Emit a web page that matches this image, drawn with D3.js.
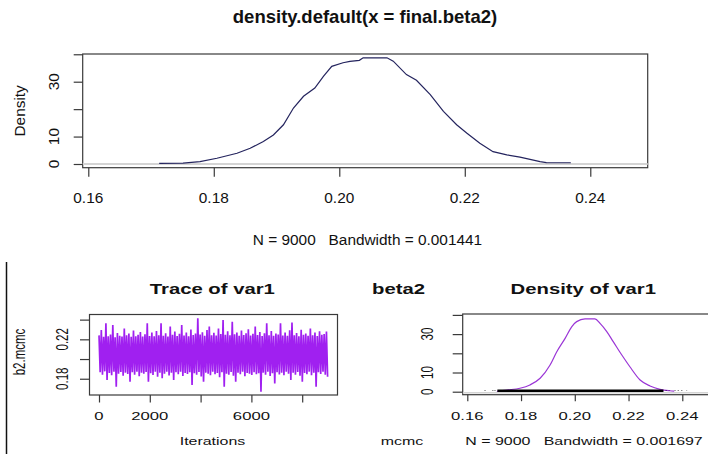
<!DOCTYPE html>
<html><head><meta charset="utf-8">
<script src="https://cdn.jsdelivr.net/npm/d3@7"></script>
<style>
body{margin:0;background:#fff}
svg{display:block}
text{font-family:"Liberation Sans",Arial,sans-serif;fill:#111;white-space:pre}
</style>
</head><body>
<svg id="c" width="708" height="454"></svg>
<script>
// ---------- DATA ----------
// Top: density.default(x = final.beta2)
const topDensX = [0.1713,0.1751,0.1778,0.1805,0.1837,0.1858,0.1879,0.1895,0.1911,0.1927,0.1943,0.1961,0.1975,0.1988,0.2006,0.2017,0.2032,0.2038,0.2076,0.2086,0.2107,0.2123,0.2145,0.2166,0.2187,0.2203,0.2224,0.2245,0.2267,0.2288,0.2320,0.2330,0.2369];
const topDensY = [0.25,0.30,0.84,2.09,3.92,5.75,8.17,10.6,14.3,20.4,24.7,27.7,32.0,35.6,36.9,37.4,37.8,38.7,38.7,37.5,32.6,30.5,25.3,19.2,14.3,11.3,7.6,4.5,3.3,2.5,0.84,0.50,0.45];
const topXTicks = [0.16,0.18,0.20,0.22,0.24];
const topYTicks = [0,10,20,30,40];
const topYLabels = [0,10,30];
const topTitle = "density.default(x = final.beta2)";
const topSub = "N = 9000   Bandwidth = 0.001441";

const traceHigh = [0.2240,0.2294,0.2225,0.2362,0.2230,0.2248,0.2345,0.2222,0.2265,0.2235,
0.2228,0.2310,0.2240,0.2258,0.2226,0.2290,0.2232,0.2246,0.2275,0.2228,
0.2252,0.2362,0.2234,0.2268,0.2230,0.2285,0.2241,0.2362,0.2236,0.2262,
0.2229,0.2330,0.2245,0.2280,0.2233,0.2256,0.2345,0.2238,0.2270,0.2232,
0.2300,0.2244,0.2258,0.2413,0.2250,0.2272,0.2236,0.2295,0.2330,0.2242,
0.2266,0.2238,0.2310,0.2255,0.2396,0.2247,0.2282,0.2240,0.2379,0.2251,
0.2268,0.2236,0.2290,0.2243,0.2262,0.2302,0.2238,0.2256,0.2330,0.2244,
0.2275,0.2233,0.2262,0.2362,0.2240,0.2284,0.2237,0.2258,0.2248,0.2362,
0.2239,0.2270,0.2235,0.2292,0.2370,0.2242,0.2264,0.2231,0.2298,0.2246,
0.2258,0.2235,0.2310,0.2240,0.2268,0.2233,0.2282,0.2245,0.2255,0.2278];
const traceLow = [0.1865,0.1842,0.1875,0.1787,0.1858,0.1836,0.1870,0.1719,0.1852,0.1868,
0.1830,0.1862,0.1848,0.1770,0.1866,0.1840,0.1872,0.1825,0.1860,0.1850,
0.1868,0.1770,0.1855,0.1838,0.1870,0.1820,0.1862,0.1804,0.1850,0.1872,
0.1833,0.1860,0.1787,0.1865,0.1845,0.1870,0.1828,0.1858,0.1848,0.1866,
0.1736,0.1855,0.1840,0.1868,0.1822,0.1770,0.1862,0.1850,0.1835,0.1870,
0.1845,0.1858,0.1815,0.1866,0.1719,0.1852,0.1840,0.1868,0.1830,0.1770,
0.1860,0.1846,0.1872,0.1826,0.1858,0.1850,0.1838,0.1866,0.1845,0.1855,
0.1668,0.1862,0.1840,0.1870,0.1828,0.1856,0.1753,0.1866,0.1844,0.1860,
0.1835,0.1870,0.1850,0.1787,0.1862,0.1842,0.1868,0.1830,0.1770,0.1858,
0.1846,0.1872,0.1836,0.1860,0.1719,0.1865,0.1848,0.1870,0.1840,0.1820];
const nIter = 9000;
const traceXTicks = [0,2000,4000,6000,8000];
const traceXLabels = [0,2000,6000];
const traceYTicks = [0.18,0.20,0.22,0.24];
const traceYLabels = [0.18,0.22];

// Bottom-right: density of var1
const botDensX = [0.1710,0.1747,0.1796,0.1833,0.1871,0.1908,0.1933,0.1964,0.1989,0.2007,0.2038,0.2075,0.2094,0.2119,0.2143,0.2175,0.2205,0.2243,0.2280,0.2317,0.2354,0.2370];
const botDensY = [0.2,0.9,1.8,3.5,7.0,13.9,20.8,27.8,33.9,36.5,37.9,37.9,35.6,31.3,26.1,19.1,13.0,6.1,3.0,1.25,0.5,0.3];
const rugDense = [0.1712,0.2330];
const rugSparse = [0.1666,0.1695,0.1703,0.2340,0.2352,0.2373,0.2385,0.2398,0.2416];
const botXTicks = [0.16,0.18,0.20,0.22,0.24];
const botYTicks = [0,10,20,30,40];
const botYLabels = [0,10,30];

// ---------- DRAW ----------
const svg = d3.select("#c");
const BOX = "#3a3a3a";
const f2 = d3.format(".2f");

function txt(x, y, s, size, opt = {}) {
  return svg.append("text")
    .attr("transform", `translate(${x},${y})` + (opt.sx ? ` scale(${opt.sx},1)` : "") + (opt.rot ? " rotate(-90)" : ""))
    .attr("text-anchor", opt.anchor || "middle")
    .attr("font-size", size)
    .attr("font-weight", opt.bold ? "bold" : "normal")
    .text(s);
}

// ===== TOP PANEL =====
const tx = d3.scaleLinear().domain([0.15911, 0.24915]).range([82.7, 647.7]);
const ty = d3.scaleLinear().domain([-1.35, 40.1]).range([167.7, 54]);

svg.append("rect").attr("x", tx.range()[0]).attr("y", ty.range()[1])
  .attr("width", tx.range()[1] - tx.range()[0]).attr("height", ty.range()[0] - ty.range()[1])
  .attr("fill", "none").attr("stroke", BOX).attr("stroke-width", 1.2);

svg.append("line").attr("x1", tx.range()[0]).attr("x2", tx.range()[1])
  .attr("y1", ty(0)).attr("y2", ty(0)).attr("stroke", "#d4d4d4").attr("stroke-width", 2.2);

svg.append("path").datum(d3.zip(topDensX, topDensY))
  .attr("fill", "none").attr("stroke", "#24245e").attr("stroke-width", 1.2)
  .attr("d", d3.line().x(d => tx(d[0])).y(d => ty(d[1])));

const topXAxis = svg.append("g").attr("transform", `translate(0,${ty.range()[0]})`)
  .call(d3.axisBottom(tx).tickValues(topXTicks).tickSize(9).tickSizeOuter(0).tickFormat(""));
const topYAxis = svg.append("g").attr("transform", `translate(${tx.range()[0]},0)`)
  .call(d3.axisLeft(ty).tickValues(topYTicks).tickSize(9).tickSizeOuter(0).tickFormat(""));
[topXAxis, topYAxis].forEach(a => {
  a.select(".domain").remove();
  a.selectAll(".tick line").attr("stroke", BOX).attr("stroke-width", 1.2);
});

topXTicks.forEach(v => txt(tx(v), 203, f2(v), 15.4));
topYLabels.forEach(v => txt(59, ty(v), String(v), 15.4, {rot: true}));
txt(24.7, (ty.range()[0] + ty.range()[1]) / 2, "Density", 15.4, {rot: true});
txt(365, 23, topTitle, 18.5, {bold: true});
txt(367.5, 245, topSub, 15.4);

// divider line on the left of bottom half
svg.append("line").attr("x1", 6.5).attr("x2", 6.5).attr("y1", 262).attr("y2", 454)
  .attr("stroke", "#111").attr("stroke-width", 1.5);

// ===== BOTTOM-LEFT: TRACE =====
const SX = 1.45;
const bx = d3.scaleLinear().domain([-374, 9390]).range([89.5, 337.5]);
const by = d3.scaleLinear().domain([0.1635, 0.2452]).range([395, 314.5]);

const traceSeq = [];
traceHigh.forEach((h, i) => { traceSeq.push(h); traceSeq.push(traceLow[i]); });
const traceIter = d3.range(traceSeq.length).map(i => 1 + i * (nIter - 1) / (traceSeq.length - 1));

svg.append("path").datum(d3.zip(traceIter, traceSeq))
  .attr("fill", "none").attr("stroke", "#a020f0").attr("stroke-width", 1.7)
  .attr("stroke-linejoin", "bevel")
  .attr("d", d3.line().x(d => bx(d[0])).y(d => by(d[1])));

svg.append("rect").attr("x", bx.range()[0]).attr("y", by.range()[1])
  .attr("width", bx.range()[1] - bx.range()[0]).attr("height", by.range()[0] - by.range()[1])
  .attr("fill", "none").attr("stroke", BOX).attr("stroke-width", 1.2);

const trX = svg.append("g").attr("transform", `translate(0,${by.range()[0]})`)
  .call(d3.axisBottom(bx).tickValues(traceXTicks).tickSize(7.5).tickSizeOuter(0).tickFormat(""));
const trY = svg.append("g").attr("transform", `translate(${bx.range()[0]},0)`)
  .call(d3.axisLeft(by).tickValues(traceYTicks).tickSize(9.5).tickSizeOuter(0).tickFormat(""));
[trX, trY].forEach(a => {
  a.select(".domain").remove();
  a.selectAll(".tick line").attr("stroke", BOX).attr("stroke-width", 1.2);
});
traceXLabels.forEach(v => txt(bx(v), 419.5, String(v), 11.5, {sx: SX}));
traceYLabels.forEach(v => txt(67.5, by(v), f2(v), 11.5, {sx: SX, rot: true}));
txt(25, 352, "b2.mcmc", 11.5, {sx: SX, rot: true});
txt(212.5, 445, "Iterations", 11, {sx: SX});
txt(212.3, 294, "Trace of var1", 14, {sx: SX, bold: true});
txt(398.5, 294, "beta2", 14, {sx: SX, bold: true});

// ===== BOTTOM-RIGHT: DENSITY =====
const dx = d3.scaleLinear().domain([0.15829, 0.2518]).range([462.7, 714]);
const dy = d3.scaleLinear().domain([-1.56, 40.47]).range([394.7, 314]);

svg.append("rect").attr("x", dx.range()[0]).attr("y", dy.range()[1])
  .attr("width", dx.range()[1] - dx.range()[0]).attr("height", dy.range()[0] - dy.range()[1])
  .attr("fill", "none").attr("stroke", BOX).attr("stroke-width", 1.2);

svg.append("line").attr("x1", dx.range()[0]).attr("x2", dx.range()[1])
  .attr("y1", dy(0) + 1).attr("y2", dy(0) + 1).attr("stroke", "#d4d4d4").attr("stroke-width", 1.6);

svg.append("path").datum(d3.zip(botDensX, botDensY))
  .attr("fill", "none").attr("stroke", "#9a35d6").attr("stroke-width", 1.2)
  .attr("d", d3.line().curve(d3.curveMonotoneX).x(d => dx(d[0])).y(d => dy(d[1])));

// observations (type "h" lines up to max/100)
const obsH = d3.max(botDensY) / 100;
svg.append("line").attr("x1", dx(rugDense[0])).attr("x2", dx(rugDense[1]))
  .attr("y1", dy(obsH / 2) - 0.6).attr("y2", dy(obsH / 2) - 0.6)
  .attr("stroke", "#000").attr("stroke-width", 2.4);
svg.selectAll(".rug").data(rugSparse).join("line")
  .attr("x1", d => dx(d)).attr("x2", d => dx(d))
  .attr("y1", dy(0) - 1.6).attr("y2", dy(obsH) - 0.6)
  .attr("stroke", "#000").attr("stroke-width", 1.3);

const dX = svg.append("g").attr("transform", `translate(0,${dy.range()[0]})`)
  .call(d3.axisBottom(dx).tickValues(botXTicks).tickSize(6.5).tickSizeOuter(0).tickFormat(""));
const dY = svg.append("g").attr("transform", `translate(${dx.range()[0]},0)`)
  .call(d3.axisLeft(dy).tickValues(botYTicks).tickSize(10).tickSizeOuter(0).tickFormat(""));
[dX, dY].forEach(a => {
  a.select(".domain").remove();
  a.selectAll(".tick line").attr("stroke", BOX).attr("stroke-width", 1.2);
});
botXTicks.forEach(v => txt(dx(v), 419.5, f2(v), 11.5, {sx: SX}));
botYLabels.forEach(v => txt(433, dy(v), String(v), 11.5, {sx: SX, rot: true}));
txt(583.3, 294, "Density of var1", 14, {sx: SX, bold: true});
txt(402, 445, "mcmc", 11, {sx: SX});
txt(584, 445, "N = 9000   Bandwidth = 0.001697", 11, {sx: SX});
</script>
</body></html>
